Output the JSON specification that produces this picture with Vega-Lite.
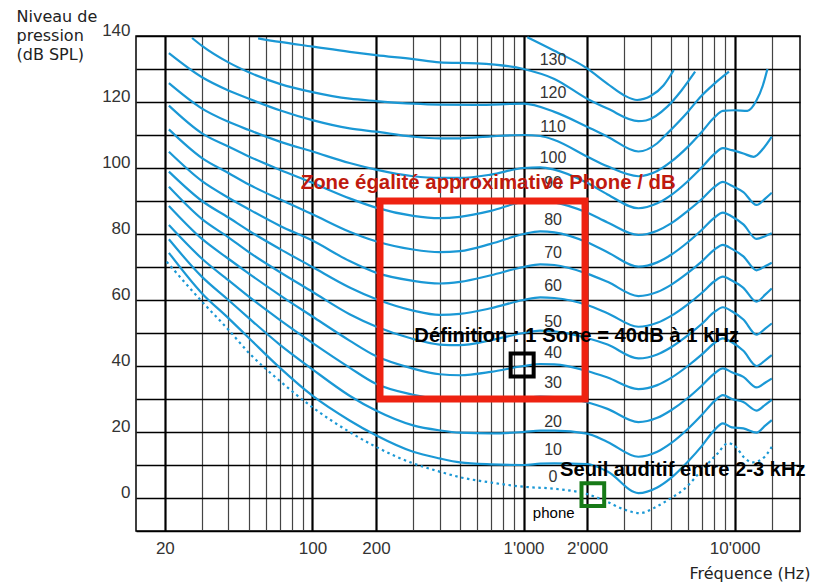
{
  "$schema": "https://vega.github.io/schema/vega-lite/v6.json",
  "width": 664,
  "height": 495,
  "autosize": {"type": "none"},
  "padding": {"left": 136, "top": 36, "right": 13, "bottom": 54},
  "background": "white",
  "config": {
    "view": {"stroke": "#000", "strokeWidth": 1.5},
    "axis": {"ticks": false, "domain": false}
  },
  "datasets": {
    "curves": [
      {"phon": 10, "f": 20.9, "db": 74.3}, {"phon": 10, "f": 30, "db": 62}, {"phon": 10, "f": 40, "db": 54.5}, {"phon": 10, "f": 50, "db": 48.5}, {"phon": 10, "f": 70, "db": 39.5}, {"phon": 10, "f": 100, "db": 31}, {"phon": 10, "f": 150, "db": 23.5}, {"phon": 10, "f": 200, "db": 19}, {"phon": 10, "f": 300, "db": 14}, {"phon": 10, "f": 400, "db": 12}, {"phon": 10, "f": 500, "db": 10.8}, {"phon": 10, "f": 700, "db": 10.2}, {"phon": 10, "f": 1000, "db": 10}, {"phon": 10, "f": 1200, "db": 10.4}, {"phon": 10, "f": 1400, "db": 10.5}, {"phon": 10, "f": 2000, "db": 10.3}, {"phon": 10, "f": 2500, "db": 8}, {"phon": 10, "f": 3500, "db": 1.5}, {"phon": 10, "f": 4300, "db": 3.2}, {"phon": 10, "f": 5000, "db": 6.1}, {"phon": 10, "f": 6000, "db": 11}, {"phon": 10, "f": 7000, "db": 15.8}, {"phon": 10, "f": 8000, "db": 20.5}, {"phon": 10, "f": 8800, "db": 22.6}, {"phon": 10, "f": 9700, "db": 21.4}, {"phon": 10, "f": 11000, "db": 21.1}, {"phon": 10, "f": 12700, "db": 19.8}, {"phon": 10, "f": 14000, "db": 22}, {"phon": 10, "f": 15000, "db": 23.6},
      {"phon": 20, "f": 20.9, "db": 78.4}, {"phon": 20, "f": 30, "db": 67}, {"phon": 20, "f": 40, "db": 60}, {"phon": 20, "f": 50, "db": 54.5}, {"phon": 20, "f": 70, "db": 46.5}, {"phon": 20, "f": 100, "db": 39}, {"phon": 20, "f": 150, "db": 31}, {"phon": 20, "f": 200, "db": 26.5}, {"phon": 20, "f": 300, "db": 22}, {"phon": 20, "f": 400, "db": 20.5}, {"phon": 20, "f": 500, "db": 19.8}, {"phon": 20, "f": 700, "db": 19.6}, {"phon": 20, "f": 1000, "db": 20}, {"phon": 20, "f": 1200, "db": 20.4}, {"phon": 20, "f": 1400, "db": 20.4}, {"phon": 20, "f": 2000, "db": 19.5}, {"phon": 20, "f": 2500, "db": 17}, {"phon": 20, "f": 3500, "db": 12.5}, {"phon": 20, "f": 4300, "db": 14}, {"phon": 20, "f": 5000, "db": 16.6}, {"phon": 20, "f": 6000, "db": 20.9}, {"phon": 20, "f": 7000, "db": 25.2}, {"phon": 20, "f": 8000, "db": 29.3}, {"phon": 20, "f": 8800, "db": 31.2}, {"phon": 20, "f": 9700, "db": 30}, {"phon": 20, "f": 11000, "db": 29.1}, {"phon": 20, "f": 12700, "db": 26.5}, {"phon": 20, "f": 14000, "db": 28.3}, {"phon": 20, "f": 15000, "db": 29.7},
      {"phon": 30, "f": 20.9, "db": 82.7}, {"phon": 30, "f": 30, "db": 72.5}, {"phon": 30, "f": 40, "db": 66}, {"phon": 30, "f": 50, "db": 61}, {"phon": 30, "f": 70, "db": 54}, {"phon": 30, "f": 100, "db": 47}, {"phon": 30, "f": 150, "db": 39.5}, {"phon": 30, "f": 200, "db": 34.6}, {"phon": 30, "f": 300, "db": 31.3}, {"phon": 30, "f": 400, "db": 30}, {"phon": 30, "f": 500, "db": 29.7}, {"phon": 30, "f": 700, "db": 29.9}, {"phon": 30, "f": 1000, "db": 30.3}, {"phon": 30, "f": 1200, "db": 30.7}, {"phon": 30, "f": 1400, "db": 30.6}, {"phon": 30, "f": 2000, "db": 29}, {"phon": 30, "f": 2500, "db": 27}, {"phon": 30, "f": 3500, "db": 23}, {"phon": 30, "f": 4300, "db": 24.3}, {"phon": 30, "f": 5000, "db": 26.6}, {"phon": 30, "f": 6000, "db": 30.3}, {"phon": 30, "f": 7000, "db": 34.1}, {"phon": 30, "f": 8000, "db": 37.7}, {"phon": 30, "f": 8800, "db": 39.3}, {"phon": 30, "f": 9700, "db": 38.1}, {"phon": 30, "f": 11000, "db": 36.7}, {"phon": 30, "f": 12700, "db": 33.5}, {"phon": 30, "f": 14000, "db": 35}, {"phon": 30, "f": 15000, "db": 36.2},
      {"phon": 40, "f": 20.9, "db": 88.5}, {"phon": 40, "f": 30, "db": 78.5}, {"phon": 40, "f": 40, "db": 72.5}, {"phon": 40, "f": 50, "db": 68}, {"phon": 40, "f": 70, "db": 61.5}, {"phon": 40, "f": 100, "db": 55}, {"phon": 40, "f": 150, "db": 47.7}, {"phon": 40, "f": 200, "db": 43}, {"phon": 40, "f": 300, "db": 39.2}, {"phon": 40, "f": 400, "db": 37.5}, {"phon": 40, "f": 500, "db": 37.2}, {"phon": 40, "f": 700, "db": 38.2}, {"phon": 40, "f": 1000, "db": 40}, {"phon": 40, "f": 1200, "db": 40.6}, {"phon": 40, "f": 1400, "db": 40.5}, {"phon": 40, "f": 2000, "db": 38.5}, {"phon": 40, "f": 2500, "db": 36.5}, {"phon": 40, "f": 3500, "db": 33}, {"phon": 40, "f": 4300, "db": 34.2}, {"phon": 40, "f": 5000, "db": 36.4}, {"phon": 40, "f": 6000, "db": 40}, {"phon": 40, "f": 7000, "db": 43.5}, {"phon": 40, "f": 8000, "db": 46.9}, {"phon": 40, "f": 8800, "db": 48.4}, {"phon": 40, "f": 9700, "db": 47.2}, {"phon": 40, "f": 11000, "db": 44.6}, {"phon": 40, "f": 12700, "db": 40}, {"phon": 40, "f": 14000, "db": 41.8}, {"phon": 40, "f": 15000, "db": 43.3},
      {"phon": 50, "f": 20.9, "db": 94.3}, {"phon": 50, "f": 30, "db": 84.5}, {"phon": 50, "f": 40, "db": 79}, {"phon": 50, "f": 50, "db": 74.5}, {"phon": 50, "f": 70, "db": 68.5}, {"phon": 50, "f": 100, "db": 62.5}, {"phon": 50, "f": 150, "db": 55.7}, {"phon": 50, "f": 200, "db": 52}, {"phon": 50, "f": 300, "db": 48.2}, {"phon": 50, "f": 400, "db": 46.5}, {"phon": 50, "f": 500, "db": 46.3}, {"phon": 50, "f": 700, "db": 47.8}, {"phon": 50, "f": 1000, "db": 50}, {"phon": 50, "f": 1200, "db": 50.7}, {"phon": 50, "f": 1400, "db": 50.5}, {"phon": 50, "f": 2000, "db": 48.5}, {"phon": 50, "f": 2500, "db": 46.5}, {"phon": 50, "f": 3500, "db": 42.3}, {"phon": 50, "f": 4300, "db": 43.5}, {"phon": 50, "f": 5000, "db": 45.7}, {"phon": 50, "f": 6000, "db": 49.3}, {"phon": 50, "f": 7000, "db": 52.8}, {"phon": 50, "f": 8000, "db": 56.3}, {"phon": 50, "f": 8800, "db": 57.8}, {"phon": 50, "f": 9700, "db": 56.6}, {"phon": 50, "f": 11000, "db": 54.1}, {"phon": 50, "f": 12700, "db": 49.5}, {"phon": 50, "f": 14000, "db": 51.4}, {"phon": 50, "f": 15000, "db": 52.9},
      {"phon": 60, "f": 20.9, "db": 98.9}, {"phon": 60, "f": 30, "db": 90}, {"phon": 60, "f": 40, "db": 85}, {"phon": 60, "f": 50, "db": 81}, {"phon": 60, "f": 70, "db": 75.5}, {"phon": 60, "f": 100, "db": 70}, {"phon": 60, "f": 150, "db": 63.8}, {"phon": 60, "f": 200, "db": 60.3}, {"phon": 60, "f": 300, "db": 56.8}, {"phon": 60, "f": 400, "db": 55.5}, {"phon": 60, "f": 500, "db": 55.8}, {"phon": 60, "f": 700, "db": 57.5}, {"phon": 60, "f": 1000, "db": 60}, {"phon": 60, "f": 1200, "db": 60.8}, {"phon": 60, "f": 1400, "db": 60.6}, {"phon": 60, "f": 2000, "db": 58.5}, {"phon": 60, "f": 2500, "db": 56}, {"phon": 60, "f": 3500, "db": 51.9}, {"phon": 60, "f": 4300, "db": 53.1}, {"phon": 60, "f": 5000, "db": 55.2}, {"phon": 60, "f": 6000, "db": 58.7}, {"phon": 60, "f": 7000, "db": 62.2}, {"phon": 60, "f": 8000, "db": 65.6}, {"phon": 60, "f": 8800, "db": 67.1}, {"phon": 60, "f": 9700, "db": 65.9}, {"phon": 60, "f": 11000, "db": 63.7}, {"phon": 60, "f": 12700, "db": 59.5}, {"phon": 60, "f": 14000, "db": 61.7}, {"phon": 60, "f": 15000, "db": 63.5},
      {"phon": 70, "f": 20.9, "db": 104.9}, {"phon": 70, "f": 30, "db": 96}, {"phon": 70, "f": 40, "db": 91}, {"phon": 70, "f": 50, "db": 87.5}, {"phon": 70, "f": 70, "db": 82.5}, {"phon": 70, "f": 100, "db": 78}, {"phon": 70, "f": 150, "db": 71.8}, {"phon": 70, "f": 200, "db": 68.3}, {"phon": 70, "f": 300, "db": 65.8}, {"phon": 70, "f": 400, "db": 65}, {"phon": 70, "f": 500, "db": 65.5}, {"phon": 70, "f": 700, "db": 67.5}, {"phon": 70, "f": 1000, "db": 70}, {"phon": 70, "f": 1200, "db": 70.8}, {"phon": 70, "f": 1400, "db": 70.6}, {"phon": 70, "f": 2000, "db": 68}, {"phon": 70, "f": 2500, "db": 65.5}, {"phon": 70, "f": 3500, "db": 61.2}, {"phon": 70, "f": 4300, "db": 62.4}, {"phon": 70, "f": 5000, "db": 64.6}, {"phon": 70, "f": 6000, "db": 68.2}, {"phon": 70, "f": 7000, "db": 71.7}, {"phon": 70, "f": 8000, "db": 75.2}, {"phon": 70, "f": 8800, "db": 76.7}, {"phon": 70, "f": 9700, "db": 75.5}, {"phon": 70, "f": 11000, "db": 73.2}, {"phon": 70, "f": 12700, "db": 69}, {"phon": 70, "f": 14000, "db": 70.3}, {"phon": 70, "f": 15000, "db": 71.3},
      {"phon": 80, "f": 20.9, "db": 111.7}, {"phon": 80, "f": 30, "db": 103}, {"phon": 80, "f": 40, "db": 98.5}, {"phon": 80, "f": 50, "db": 95}, {"phon": 80, "f": 70, "db": 90.5}, {"phon": 80, "f": 100, "db": 86}, {"phon": 80, "f": 150, "db": 80.7}, {"phon": 80, "f": 200, "db": 77.8}, {"phon": 80, "f": 300, "db": 75.3}, {"phon": 80, "f": 400, "db": 74.5}, {"phon": 80, "f": 500, "db": 74.8}, {"phon": 80, "f": 700, "db": 77}, {"phon": 80, "f": 1000, "db": 80}, {"phon": 80, "f": 1200, "db": 80.8}, {"phon": 80, "f": 1400, "db": 80.5}, {"phon": 80, "f": 2000, "db": 77.5}, {"phon": 80, "f": 2500, "db": 74.5}, {"phon": 80, "f": 3500, "db": 70.1}, {"phon": 80, "f": 4300, "db": 71.4}, {"phon": 80, "f": 5000, "db": 73.7}, {"phon": 80, "f": 6000, "db": 77.5}, {"phon": 80, "f": 7000, "db": 81.3}, {"phon": 80, "f": 8000, "db": 84.9}, {"phon": 80, "f": 8800, "db": 86.5}, {"phon": 80, "f": 9700, "db": 85.3}, {"phon": 80, "f": 11000, "db": 82.9}, {"phon": 80, "f": 12700, "db": 78.5}, {"phon": 80, "f": 14000, "db": 79.4}, {"phon": 80, "f": 15000, "db": 80.2},
      {"phon": 90, "f": 20.9, "db": 118.9}, {"phon": 90, "f": 30, "db": 110.5}, {"phon": 90, "f": 40, "db": 106.5}, {"phon": 90, "f": 50, "db": 103.5}, {"phon": 90, "f": 70, "db": 99.5}, {"phon": 90, "f": 100, "db": 95.5}, {"phon": 90, "f": 150, "db": 90.8}, {"phon": 90, "f": 200, "db": 88}, {"phon": 90, "f": 300, "db": 85.5}, {"phon": 90, "f": 400, "db": 84.8}, {"phon": 90, "f": 500, "db": 85.2}, {"phon": 90, "f": 700, "db": 87}, {"phon": 90, "f": 1000, "db": 89.8}, {"phon": 90, "f": 1200, "db": 90.2}, {"phon": 90, "f": 1400, "db": 89.6}, {"phon": 90, "f": 2000, "db": 86.5}, {"phon": 90, "f": 2500, "db": 83.5}, {"phon": 90, "f": 3500, "db": 79.7}, {"phon": 90, "f": 4300, "db": 81}, {"phon": 90, "f": 5000, "db": 83.2}, {"phon": 90, "f": 6000, "db": 87}, {"phon": 90, "f": 7000, "db": 90.6}, {"phon": 90, "f": 8000, "db": 94.2}, {"phon": 90, "f": 8800, "db": 95.8}, {"phon": 90, "f": 9700, "db": 94.6}, {"phon": 90, "f": 11000, "db": 92.7}, {"phon": 90, "f": 12700, "db": 88.8}, {"phon": 90, "f": 14000, "db": 90.8}, {"phon": 90, "f": 15000, "db": 92.5},
      {"phon": 100, "f": 20.9, "db": 125.7}, {"phon": 100, "f": 30, "db": 118}, {"phon": 100, "f": 40, "db": 114}, {"phon": 100, "f": 50, "db": 111.5}, {"phon": 100, "f": 70, "db": 108}, {"phon": 100, "f": 100, "db": 105}, {"phon": 100, "f": 150, "db": 101.5}, {"phon": 100, "f": 200, "db": 99.5}, {"phon": 100, "f": 300, "db": 97.5}, {"phon": 100, "f": 400, "db": 97}, {"phon": 100, "f": 500, "db": 97}, {"phon": 100, "f": 700, "db": 98}, {"phon": 100, "f": 1000, "db": 100}, {"phon": 100, "f": 1200, "db": 100.2}, {"phon": 100, "f": 1400, "db": 99.5}, {"phon": 100, "f": 2000, "db": 95.5}, {"phon": 100, "f": 2500, "db": 92}, {"phon": 100, "f": 3500, "db": 87.8}, {"phon": 100, "f": 4300, "db": 89.3}, {"phon": 100, "f": 5000, "db": 91.8}, {"phon": 100, "f": 6000, "db": 96}, {"phon": 100, "f": 7000, "db": 100.2}, {"phon": 100, "f": 8000, "db": 104.2}, {"phon": 100, "f": 8800, "db": 106}, {"phon": 100, "f": 9700, "db": 105.4}, {"phon": 100, "f": 11000, "db": 104.4}, {"phon": 100, "f": 12300, "db": 103.4}, {"phon": 100, "f": 13700, "db": 106}, {"phon": 100, "f": 15000, "db": 109.5},
      {"phon": 110, "f": 20.9, "db": 134.8}, {"phon": 110, "f": 30, "db": 127.5}, {"phon": 110, "f": 40, "db": 123.5}, {"phon": 110, "f": 50, "db": 121}, {"phon": 110, "f": 70, "db": 117.5}, {"phon": 110, "f": 100, "db": 114.5}, {"phon": 110, "f": 150, "db": 112}, {"phon": 110, "f": 200, "db": 111}, {"phon": 110, "f": 300, "db": 109.5}, {"phon": 110, "f": 400, "db": 109}, {"phon": 110, "f": 500, "db": 109}, {"phon": 110, "f": 700, "db": 109.6}, {"phon": 110, "f": 1000, "db": 110}, {"phon": 110, "f": 1200, "db": 109.7}, {"phon": 110, "f": 1400, "db": 108.5}, {"phon": 110, "f": 2000, "db": 103.5}, {"phon": 110, "f": 2500, "db": 100.5}, {"phon": 110, "f": 3500, "db": 97.5}, {"phon": 110, "f": 4300, "db": 99.1}, {"phon": 110, "f": 5000, "db": 101.9}, {"phon": 110, "f": 6000, "db": 106.4}, {"phon": 110, "f": 7000, "db": 111}, {"phon": 110, "f": 8000, "db": 115.3}, {"phon": 110, "f": 8800, "db": 117.3}, {"phon": 110, "f": 10000, "db": 117.5}, {"phon": 110, "f": 11500, "db": 117.3}, {"phon": 110, "f": 12700, "db": 120.5}, {"phon": 110, "f": 13600, "db": 125}, {"phon": 110, "f": 14300, "db": 130},
      {"phon": 120, "f": 26.9, "db": 139.4}, {"phon": 120, "f": 30, "db": 137}, {"phon": 120, "f": 40, "db": 132}, {"phon": 120, "f": 50, "db": 129}, {"phon": 120, "f": 70, "db": 125.5}, {"phon": 120, "f": 100, "db": 123}, {"phon": 120, "f": 150, "db": 121}, {"phon": 120, "f": 200, "db": 120.3}, {"phon": 120, "f": 300, "db": 119.5}, {"phon": 120, "f": 400, "db": 119.2}, {"phon": 120, "f": 600, "db": 119.1}, {"phon": 120, "f": 1000, "db": 119.5}, {"phon": 120, "f": 1400, "db": 117}, {"phon": 120, "f": 2000, "db": 112.5}, {"phon": 120, "f": 2500, "db": 109.5}, {"phon": 120, "f": 3500, "db": 105}, {"phon": 120, "f": 4300, "db": 107.5}, {"phon": 120, "f": 4800, "db": 110.5}, {"phon": 120, "f": 6000, "db": 117}, {"phon": 120, "f": 6900, "db": 121.6}, {"phon": 120, "f": 8000, "db": 125.5}, {"phon": 120, "f": 9400, "db": 129.2},
      {"phon": 130, "f": 55.3, "db": 139.3}, {"phon": 130, "f": 70, "db": 138.2}, {"phon": 130, "f": 100, "db": 136.8}, {"phon": 130, "f": 150, "db": 135.2}, {"phon": 130, "f": 200, "db": 134.2}, {"phon": 130, "f": 300, "db": 133}, {"phon": 130, "f": 400, "db": 132}, {"phon": 130, "f": 600, "db": 131.7}, {"phon": 130, "f": 1000, "db": 130}, {"phon": 130, "f": 1400, "db": 127}, {"phon": 130, "f": 2000, "db": 121}, {"phon": 130, "f": 2500, "db": 118}, {"phon": 130, "f": 3500, "db": 114.2}, {"phon": 130, "f": 3800, "db": 114.4}, {"phon": 130, "f": 4800, "db": 118.6}, {"phon": 130, "f": 5600, "db": 123.5}, {"phon": 130, "f": 6500, "db": 129.2},
      {"phon": 140, "f": 1042, "db": 139.6}, {"phon": 140, "f": 1400, "db": 135.5}, {"phon": 140, "f": 2000, "db": 130.2}, {"phon": 140, "f": 2500, "db": 125.5}, {"phon": 140, "f": 3000, "db": 122}, {"phon": 140, "f": 3450, "db": 120.6}, {"phon": 140, "f": 4000, "db": 121.8}, {"phon": 140, "f": 4600, "db": 125}, {"phon": 140, "f": 5150, "db": 129.7}
    ],
    "threshold": [
      {"f": 20.4, "db": 71.6}, {"f": 30, "db": 59.5}, {"f": 40, "db": 51}, {"f": 50, "db": 44}, {"f": 70, "db": 35.5}, {"f": 100, "db": 27.5}, {"f": 150, "db": 20}, {"f": 200, "db": 15.5}, {"f": 300, "db": 10.5}, {"f": 400, "db": 8}, {"f": 500, "db": 6.3}, {"f": 700, "db": 4.7}, {"f": 1000, "db": 3.4}, {"f": 1400, "db": 2.8}, {"f": 2000, "db": 1.2}, {"f": 2500, "db": -1.2}, {"f": 3000, "db": -3.5}, {"f": 3550, "db": -4.6}, {"f": 4300, "db": -2.5}, {"f": 5000, "db": 0}, {"f": 5700, "db": 2.4}, {"f": 7000, "db": 8.5}, {"f": 8300, "db": 13.5}, {"f": 9300, "db": 16.6}, {"f": 10200, "db": 15.3}, {"f": 11000, "db": 12.5}, {"f": 12200, "db": 10.8}, {"f": 13500, "db": 11.8}, {"f": 15000, "db": 15.5}
    ],
    "curveLabels": [
      {"t": "130", "f": 1380, "db": 132.7}, {"t": "120", "f": 1380, "db": 122.6}, {"t": "110", "f": 1380, "db": 112.5}, {"t": "100", "f": 1380, "db": 102.9}, {"t": "90", "f": 1380, "db": 95.4}, {"t": "80", "f": 1380, "db": 84.2}, {"t": "70", "f": 1380, "db": 74.1}, {"t": "60", "f": 1380, "db": 64.1}, {"t": "50", "f": 1380, "db": 53.4}, {"t": "40", "f": 1380, "db": 43.8}, {"t": "30", "f": 1380, "db": 34.7}, {"t": "20", "f": 1380, "db": 23.1}, {"t": "10", "f": 1380, "db": 14.5}, {"t": "0", "f": 1380, "db": 6.4}
    ]
  },
  "encoding": {
    "x": {
      "field": "f", "type": "quantitative",
      "scale": {"type": "log", "domain": [14.6, 20400], "nice": false},
      "axis": {
        "values": [20, 30, 40, 50, 60, 70, 80, 90, 100, 200, 300, 400, 500, 600, 700, 800, 900, 1000, 2000, 3000, 4000, 5000, 6000, 7000, 8000, 9000, 10000, 15000],
        "labelExpr": "datum.value == 20 ? '20' : datum.value == 100 ? '100' : datum.value == 200 ? '200' : datum.value == 1000 ? \"1'000\" : datum.value == 2000 ? \"2'000\" : datum.value == 10000 ? \"10'000\" : ''",
        "labelOverlap": false, "labelFlush": false, "labelPadding": 9,
        "labelFont": "Liberation Sans", "labelFontSize": 17, "labelColor": "#333",
        "grid": true,
        "gridColor": {"condition": {"test": "indexof([20,100,200,1000,2000,10000], datum.value) >= 0", "value": "#000"}, "value": "#444"},
        "gridWidth": {"condition": {"test": "indexof([20,100,200,1000,2000,10000], datum.value) >= 0", "value": 2.2}, "value": 1.2},
        "title": "Fréquence (Hz)", "titleFont": "DejaVu Sans", "titleFontSize": 16, "titleFontWeight": "normal", "titleColor": "#222",
        "titleAlign": "right", "titleAnchor": "end", "titleX": 674, "titleY": 47, "titleBaseline": "alphabetic"
      }
    },
    "y": {
      "field": "db", "type": "quantitative",
      "scale": {"domain": [-10, 140], "nice": false, "zero": false},
      "axis": {
        "values": [-10, 0, 10, 20, 30, 40, 50, 60, 70, 80, 90, 100, 110, 120, 130, 140],
        "labelExpr": "datum.value >= 0 && datum.value % 20 == 0 ? datum.label : ''",
        "labelOverlap": false, "labelFlush": false, "labelPadding": 6, "labelOffset": -6,
        "labelFont": "Liberation Sans", "labelFontSize": 17, "labelColor": "#333",
        "grid": true, "gridColor": "#000", "gridWidth": 1.3,
        "title": ["Niveau de", "pression", "(dB SPL)"], "titleAngle": 0, "titleAlign": "left", "titleBaseline": "alphabetic",
        "titleX": -120, "titleY": -15, "titleFont": "DejaVu Sans", "titleFontSize": 16, "titleFontWeight": "normal", "titleColor": "#222", "titleLineHeight": 19
      }
    }
  },
  "layer": [
    {
      "data": {"name": "curves"},
      "mark": {"type": "line", "interpolate": "monotone", "strokeWidth": 2.2, "color": "#1a98d5", "clip": true},
      "encoding": {"detail": {"field": "phon", "type": "nominal"}}
    },
    {
      "data": {"name": "threshold"},
      "mark": {"type": "line", "interpolate": "monotone", "strokeWidth": 2.2, "strokeDash": [2.5, 3.5], "color": "#1a98d5", "clip": true},
      "encoding": {}
    },
    {
      "data": {"name": "curveLabels"},
      "mark": {"type": "text", "font": "Liberation Sans", "fontSize": 16, "color": "#333", "align": "center", "baseline": "middle"},
      "encoding": {"text": {"field": "t"}}
    },
    {
      "data": {"values": [{"t": "phone", "f": 1390, "db": -4.6}]},
      "mark": {"type": "text", "font": "Liberation Sans", "fontSize": 15, "color": "#000", "align": "center", "baseline": "middle"},
      "encoding": {"text": {"field": "t"}}
    },
    {
      "data": {"values": [{"f": 209, "f2": 1956, "db": 30, "db2": 90}]},
      "mark": {"type": "rect", "fill": "#ffffff", "fillOpacity": 0, "stroke": "#ee2211", "strokeWidth": 7},
      "encoding": {"x2": {"field": "f2"}, "y2": {"field": "db2"}}
    },
    {
      "data": {"values": [{"f": 985, "db": 40.3}]},
      "mark": {"type": "point", "shape": "square", "filled": false, "size": 530, "strokeWidth": 4, "color": "#000", "opacity": 1}
    },
    {
      "data": {"values": [{"f": 2130, "db": 1.0}]},
      "mark": {"type": "point", "shape": "square", "filled": false, "size": 515, "strokeWidth": 4, "color": "#177a17", "opacity": 1}
    },
    {
      "data": {"values": [{"t": "Zone égalité approximative Phone / dB", "f": 88, "db": 95.4}]},
      "mark": {"type": "text", "font": "Liberation Sans", "fontSize": 20.4, "fontWeight": "bold", "color": "#c01a0e", "align": "left", "baseline": "middle"},
      "encoding": {"text": {"field": "t"}}
    },
    {
      "data": {"values": [{"t": "Définition : 1 Sone = 40dB à 1 kHz", "f": 304, "db": 49.1}, {"t": "Seuil auditif entre 2-3 kHz", "f": 1489, "db": 8.5}]},
      "mark": {"type": "text", "font": "Liberation Sans", "fontSize": 20.2, "fontWeight": "bold", "color": "#000", "align": "left", "baseline": "middle"},
      "encoding": {"text": {"field": "t"}}
    }
  ]
}
